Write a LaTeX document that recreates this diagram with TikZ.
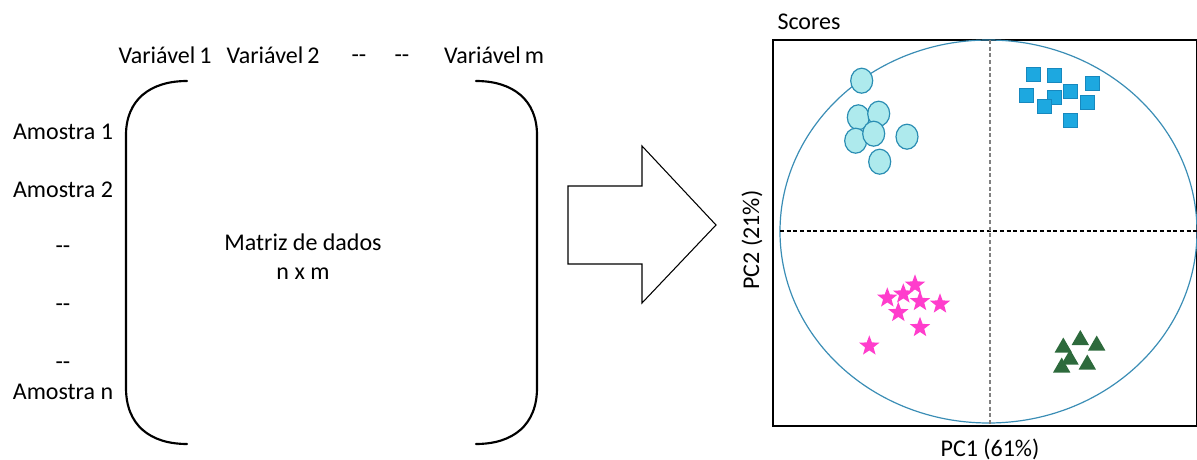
\documentclass[tikz,border=0pt]{standalone}
\usepackage{fontspec}
\setmainfont{Carlito}
\usetikzlibrary{shapes.geometric}
\definecolor{circfill}{HTML}{AEEAED}
\definecolor{circline}{HTML}{2A8DB3}
\definecolor{sqfill}{HTML}{1DA8E0}
\definecolor{sqline}{HTML}{1788BE}
\definecolor{starcol}{HTML}{FF3DCC}
\definecolor{tricol}{HTML}{2D6A3C}
\definecolor{ellcol}{HTML}{3A8DB5}
\tikzset{
  lbl/.style={font=\fontsize{18}{20}\selectfont, inner sep=0pt},
  circpt/.style={ellipse, draw=circline, fill=circfill, line width=0.9pt, minimum width=16.5pt, minimum height=18.75pt, inner sep=0pt},
  sqpt/.style={rectangle, draw=sqline, fill=sqfill, line width=0.7pt, minimum size=10.5pt, inner sep=0pt},
  starpt/.style={star, star points=5, star point ratio=2.4, fill=starcol, minimum size=16pt, inner sep=0pt},
  tript/.style={regular polygon, regular polygon sides=3, fill=tricol, minimum size=15pt, inner sep=0pt},
  paren/.style={line width=1.6pt, line cap=round},
}
\newcommand{\dd}{\vphantom{A}-{}-}
\begin{document}
\begin{tikzpicture}[x=0.75pt, y=-0.75pt]
\useasboundingbox (0,0) rectangle (1197,460);
% column labels
\node[lbl] (v1) at (165,55) {Variável\,1};
\node[lbl] (v2) at (273,55) {Variável\,2};
\node[lbl] (d1) at (359,55) {\dd};
\node[lbl] (d2) at (402,55) {\dd};
\node[lbl] (vm) at (494,55) {Variável\,m};
% row labels
\node[lbl] (a1) at (63,132) {Amostra 1};
\node[lbl] (a2) at (63,190) {Amostra 2};
\node[lbl] (r1) at (63,246) {\dd};
\node[lbl] (r2) at (63,304) {\dd};
\node[lbl] (r3) at (63,362) {\dd};
\node[lbl] (an) at (63,392) {Amostra n};
% brackets
\draw[paren] (187,81) .. controls (150,81) and (126,100) .. (126,135) -- (126,388) .. controls (126,425) and (150,444) .. (187,444);
\draw[paren] (476,81) .. controls (513,81) and (537,100) .. (537,135) -- (537,388) .. controls (537,425) and (513,444) .. (476,444);
\node[lbl, align=center] (mat) at (303,257) {Matriz de dados\\[2pt] n x m};
% block arrow
\draw[line width=0.8pt, line join=miter] (568,186) -- (642,186) -- (642,146) -- (716,225) -- (642,303) -- (642,264) -- (568,264) -- cycle;
% plot
\node[lbl] (sc) at (809,22) {Scores};
\draw[line width=0.9pt] (773,40) rectangle (1196.5,426);
\draw[ellcol, line width=0.9pt] (988.5,231.5) ellipse [x radius=208.5, y radius=191.5];
\draw[dashed, line width=0.8pt, dash pattern=on 3pt off 2pt] (780,231) -- (1197,231);
\draw[gray, line width=1.5pt, dash pattern=on 3pt off 2pt] (990,40) -- (990,424);
\node[lbl] (pc1) at (990,449) {PC1 (61\%)};
\node[lbl, rotate=90] (pc2) at (752,240) {PC2 (21\%)};
% circles
\node[circpt] (c1) at (861.7,80.7) {};
\node[circpt] (c2) at (858.3,117.3) {};
\node[circpt] (c3) at (878.7,113.7) {};
\node[circpt] (c4) at (855.7,140.7) {};
\node[circpt] (c5) at (873.7,133.7) {};
\node[circpt] (c6) at (907,136.7) {};
\node[circpt] (c7) at (879.7,161.7) {};
% squares
\node[sqpt] (s1) at (1033.3,74) {};
\node[sqpt] (s2) at (1054.7,75.3) {};
\node[sqpt] (s3) at (1092,83.3) {};
\node[sqpt] (s4) at (1070.7,91.3) {};
\node[sqpt] (s5) at (1026.3,95.3) {};
\node[sqpt] (s6) at (1054.7,97.7) {};
\node[sqpt] (s7) at (1044.7,106.3) {};
\node[sqpt] (s8) at (1087.7,102.3) {};
\node[sqpt] (s9) at (1070.7,120.3) {};
% stars
\node[starpt] (t1) at (915,285) {};
\node[starpt] (t2) at (903.3,294) {};
\node[starpt] (t3) at (887.3,298) {};
\node[starpt] (t4) at (920,301.5) {};
\node[starpt] (t5) at (940,304) {};
\node[starpt] (t6) at (898.3,312.5) {};
\node[starpt] (t7) at (920,327.5) {};
\node[starpt] (t8) at (869.3,346) {};
% triangles
\node[tript] (g1) at (1080.3,340) {};
\node[tript] (g2) at (1063.3,347.5) {};
\node[tript] (g3) at (1096.7,345.5) {};
\node[tript] (g4) at (1070,359.5) {};
\node[tript] (g5) at (1087.3,364.5) {};
\node[tript] (g6) at (1061.7,367.5) {};
\end{tikzpicture}
\end{document}
